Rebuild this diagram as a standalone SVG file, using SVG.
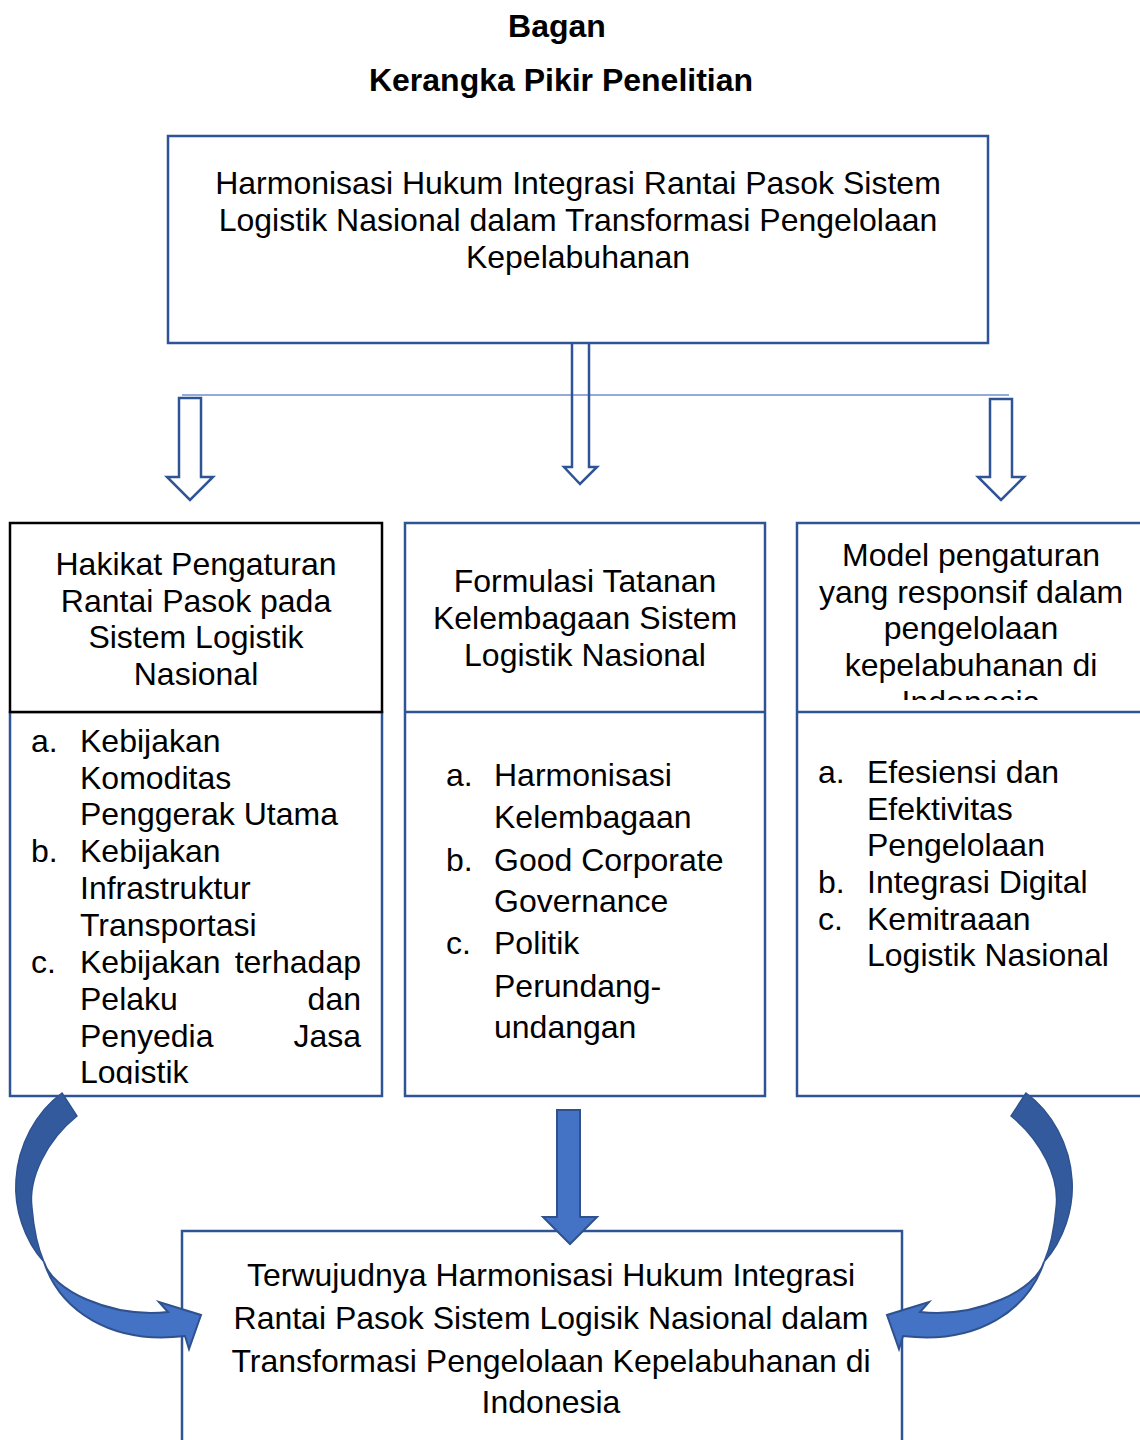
<svg xmlns="http://www.w3.org/2000/svg" width="1140" height="1440" viewBox="0 0 1140 1440">
<defs>
<style>
.t{font-family:"Liberation Sans",Arial,sans-serif;font-size:32px;fill:#000}
.c{text-anchor:middle}
.b{font-weight:bold}
.box{fill:#fff;stroke:#2F5496;stroke-width:2.5}
.hol{fill:none;stroke:#2F5496;stroke-width:2.5;stroke-linejoin:miter}
.blk{fill:#4472C4;stroke:#2F528F;stroke-width:2}
.dk{fill:#335A9C;stroke:#2F528F;stroke-width:1.5}
</style>
<clipPath id="clipL"><rect x="10" y="712" width="372" height="372"/></clipPath>
<clipPath id="clipR"><rect x="797" y="523" width="343" height="177"/></clipPath>
<g id="curve">
<path class="dk" d="M62,1093 L77,1116 C47,1140 28,1178 32,1208 C34,1232 38,1248 44,1262 C24,1240 14,1208 16,1180 C18,1145 36,1112 62,1093 Z"/>
<path class="blk" d="M44,1262 C52,1290 110,1318 168,1312 L159,1302 L201,1315 L189,1349 L185,1336 C110,1345 60,1310 44,1262 Z"/>
</g>
</defs>
<rect width="1140" height="1440" fill="#fff"/>

<g id="title">
<text class="t c b" x="557" y="37">Bagan</text>
<text class="t c b" x="561" y="91">Kerangka Pikir Penelitian</text>
</g>

<g id="top-node">
<rect class="box" x="168" y="136" width="820" height="207"/>
<text class="t c" x="578" y="194">Harmonisasi Hukum Integrasi Rantai Pasok Sistem</text>
<text class="t c" x="578" y="231">Logistik Nasional dalam Transformasi Pengelolaan</text>
<text class="t c" x="578" y="268">Kepelabuhanan</text>
</g>

<g id="node-left">
<rect x="10" y="712" width="372" height="384" fill="#fff" stroke="#2F5496" stroke-width="2.5"/>
<rect x="10" y="523" width="372" height="189" fill="#fff" stroke="#000" stroke-width="2.5"/>
<text class="t c" x="196" y="575">Hakikat Pengaturan</text>
<text class="t c" x="196" y="612">Rantai Pasok pada</text>
<text class="t c" x="196" y="648">Sistem Logistik</text>
<text class="t c" x="196" y="685">Nasional</text>
<g clip-path="url(#clipL)">
<text class="t" x="31" y="752">a.</text><text class="t" x="80" y="752">Kebijakan</text>
<text class="t" x="80" y="789">Komoditas</text>
<text class="t" x="80" y="825">Penggerak Utama</text>
<text class="t" x="31" y="862">b.</text><text class="t" x="80" y="862">Kebijakan</text>
<text class="t" x="80" y="899">Infrastruktur</text>
<text class="t" x="80" y="936">Transportasi</text>
<text class="t" x="31" y="973">c.</text><text class="t" x="80" y="973">Kebijakan</text><text class="t" x="361" y="973" text-anchor="end">terhadap</text>
<text class="t" x="80" y="1010">Pelaku</text><text class="t" x="361" y="1010" text-anchor="end">dan</text>
<text class="t" x="80" y="1047">Penyedia</text><text class="t" x="361" y="1047" text-anchor="end">Jasa</text>
<text class="t" x="80" y="1083">Logistik</text>
</g>
</g>

<g id="node-middle">
<rect class="box" x="405" y="523" width="360" height="573"/>
<line x1="405" y1="712" x2="765" y2="712" stroke="#2F5496" stroke-width="2.5"/>
<text class="t c" x="585" y="592">Formulasi Tatanan</text>
<text class="t c" x="585" y="629">Kelembagaan Sistem</text>
<text class="t c" x="585" y="666">Logistik Nasional</text>
<text class="t" x="446" y="786">a.</text><text class="t" x="494" y="786">Harmonisasi</text>
<text class="t" x="494" y="828">Kelembagaan</text>
<text class="t" x="446" y="871">b.</text><text class="t" x="494" y="871">Good Corporate</text>
<text class="t" x="494" y="912">Governance</text>
<text class="t" x="446" y="954">c.</text><text class="t" x="494" y="954">Politik</text>
<text class="t" x="494" y="997">Perundang-</text>
<text class="t" x="494" y="1038">undangan</text>
</g>

<g id="node-right">
<rect class="box" x="797" y="523" width="360" height="573"/>
<line x1="797" y1="712" x2="1140" y2="712" stroke="#2F5496" stroke-width="2.5"/>
<g clip-path="url(#clipR)">
<text class="t c" x="971" y="566">Model pengaturan</text>
<text class="t c" x="971" y="603">yang responsif dalam</text>
<text class="t c" x="971" y="639">pengelolaan</text>
<text class="t c" x="971" y="676">kepelabuhanan di</text>
<text class="t c" x="971" y="713">Indonesia</text>
</g>
<text class="t" x="818" y="783">a.</text><text class="t" x="867" y="783">Efesiensi dan</text>
<text class="t" x="867" y="820">Efektivitas</text>
<text class="t" x="867" y="856">Pengelolaan</text>
<text class="t" x="818" y="893">b.</text><text class="t" x="867" y="893">Integrasi Digital</text>
<text class="t" x="818" y="930">c.</text><text class="t" x="867" y="930">Kemitraaan</text>
<text class="t" x="867" y="966">Logistik Nasional</text>
</g>

<g id="node-bottom">
<rect class="box" x="182" y="1231" width="720" height="230"/>
<text class="t c" x="551" y="1286">Terwujudnya Harmonisasi Hukum Integrasi</text>
<text class="t c" x="551" y="1329">Rantai Pasok Sistem Logisik Nasional dalam</text>
<text class="t c" x="551" y="1372">Transformasi Pengelolaan Kepelabuhanan di</text>
<text class="t c" x="551" y="1413">Indonesia</text>
</g>

<g id="connectors">
<line x1="182" y1="395" x2="1009" y2="395" stroke="#6F8FCF" stroke-width="1.5"/>
<path class="hol" d="M572,343 L572,467 L564,467 L580,484 L597,467 L589,467 L589,343"/>
<path class="hol" d="M179,398 L201,398 L201,477 L213,477 L190,500 L167,477 L179,477 Z"/>
<path class="hol" d="M990,399 L1012,399 L1012,477 L1024,477 L1001,500 L978,477 L990,477 Z"/>
<path class="blk" d="M557,1110 L580,1110 L580,1217 L597,1217 L570,1244 L543,1217 L557,1217 Z"/>
<use href="#curve"/>
<use href="#curve" transform="translate(1088,0) scale(-1,1)"/>
</g>
</svg>
